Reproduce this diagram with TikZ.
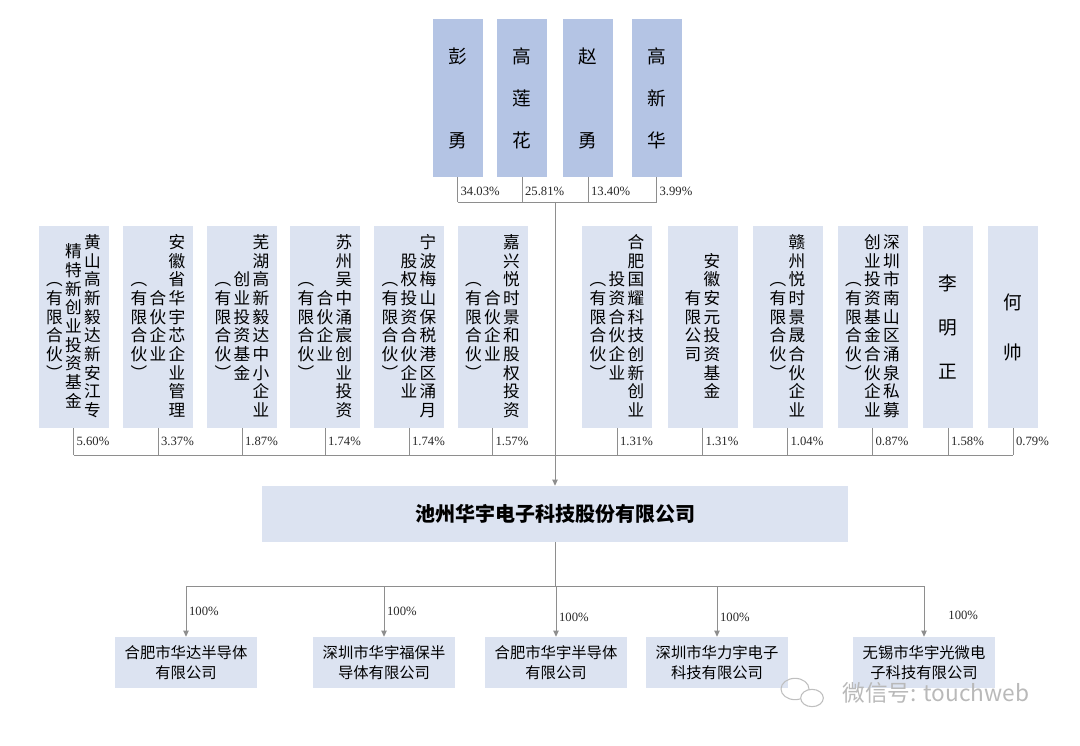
\documentclass[tikz,border=0pt]{standalone}
\usepackage{fontspec}
\newfontfamily\cjk{Noto Sans CJK SC}
\newfontfamily\numfont{Liberation Serif}
\usetikzlibrary{arrows.meta}

\definecolor{namefill}{HTML}{B4C4E4}
\definecolor{boxfill}{HTML}{DCE3F1}
\definecolor{linegray}{HTML}{8E8E8E}

% one column of upright characters, top to bottom
\ExplSyntaxOn
\cs_new_eq:NN \charmap \tl_map_inline:nn
\ExplSyntaxOff
\newcommand{\vcol}[1]{\ensuremath{\vcenter{\offinterlineskip
  \charmap{#1}{\hbox to 1.14em{\hss\vrule height .88em depth .24em width 0pt ##1\hss}}}}}

\begin{document}
\begin{tikzpicture}[
      x=0.75pt, y=-0.75pt,
      namebox/.style={fill=namefill, minimum width=37.5pt, minimum height=118.5pt,
        inner sep=0pt, align=center, font=\cjk\fontsize{14pt}{31.5pt}\selectfont},
      midbox/.style={fill=boxfill, minimum width=52.5pt, minimum height=151.5pt,
        inner sep=0pt, font=\cjk\fontsize{12.5pt}{15pt}\selectfont},
      midname/.style={midbox, minimum width=37.5pt, align=center,
        font=\cjk\fontsize{14pt}{33pt}\selectfont},
      mainbox/.style={fill=boxfill, minimum width=439.5pt, minimum height=42pt,
        inner sep=0pt, font=\cjk\bfseries\fontsize{15pt}{18pt}\selectfont},
      subbox/.style={fill=boxfill, minimum width=106.5pt, minimum height=38.25pt,
        inner sep=0pt, align=center, font=\cjk\fontsize{11.5pt}{15pt}\selectfont},
      line/.style={draw=linegray, line width=0.7pt},
      arrow/.style={line, -{Triangle[length=4.5pt, width=4pt]}},
      pct/.style={font=\numfont\fontsize{9.5pt}{11pt}\selectfont, text=black!85, inner sep=2pt}
    ]
    \useasboundingbox (0,0) rectangle (1080,745);

    % natural person shareholders
    \node[namebox] (p1) at (457.5,98) {彭\\[31.5pt]勇};
    \node[namebox] (p2) at (522,98) {高\\莲\\花};
    \node[namebox] (p3) at (588,98) {赵\\[31.5pt]勇};
    \node[namebox] (p4) at (656.5,98) {高\\新\\华};

    % other shareholders
    \node[midbox] (s1) at (73.5,327) {\vcol{︵有限合伙︶}\vcol{精特新创业投资基金}\vcol{黄山高新毅达新安江专}};
    \node[midbox] (s2) at (158,327) {\vcol{︵有限合伙︶}\vcol{合伙企业}\vcol{安徽省华宇芯企业管理}};
    \node[midbox] (s3) at (242,327) {\vcol{︵有限合伙︶}\vcol{创业投资基金}\vcol{芜湖高新毅达中小企业}};
    \node[midbox] (s4) at (325,327) {\vcol{︵有限合伙︶}\vcol{合伙企业}\vcol{苏州吴中涌宸创业投资}};
    \node[midbox] (s5) at (409,327) {\vcol{︵有限合伙︶}\vcol{股权投资合伙企业}\vcol{宁波梅山保税港区涌月}};
    \node[midbox] (s6) at (492.5,327) {\vcol{︵有限合伙︶}\vcol{合伙企业}\vcol{嘉兴悦时景和股权投资}};
    \node[midbox] (s7) at (617,327) {\vcol{︵有限合伙︶}\vcol{投资合伙企业}\vcol{合肥国耀科技创新创业}};
    \node[midbox] (s8) at (702.5,327) {\vcol{有限公司}\vcol{安徽安元投资基金}};
    \node[midbox] (s9) at (787.5,327) {\vcol{︵有限合伙︶}\vcol{赣州悦时景晟合伙企业}};
    \node[midbox] (s10) at (872.5,327) {\vcol{︵有限合伙︶}\vcol{创业投资基金合伙企业}\vcol{深圳市南山区涌泉私募}};
    \node[midname] (s11) at (948,327) {李\\明\\正};
    \node[midname] (s12) at (1013,327) {何\\[4.5pt]帅};

    \node[mainbox] (main) at (555,514) {池州华宇电子科技股份有限公司};

    % subsidiaries
    \node[subbox] (c1) at (186,662.5) {合肥市华达半导体\\有限公司};
    \node[subbox] (c2) at (384,662.5) {深圳市华宇福保半\\导体有限公司};
    \node[subbox] (c3) at (556,662.5) {合肥市华宇半导体\\有限公司};
    \node[subbox] (c4) at (717,662.5) {深圳市华力宇电子\\科技有限公司};
    \node[subbox] (c5) at (924,662.5) {无锡市华宇光微电\\子科技有限公司};

    \coordinate (tb) at (555,202);
    \coordinate (mb) at (555,455);
    \coordinate (bb) at (555,586);

    \foreach \i/\v in {1/34.03, 2/25.81, 3/13.40, 4/3.99}
      \draw[line] (p\i.south) -- node[pct, right, yshift=-1pt] {\v\%} (p\i.south |- tb);
    \draw[line] (p1.south |- tb) -- (p4.south |- tb);

    \foreach \i/\v in {1/5.60, 2/3.37, 3/1.87, 4/1.74, 5/1.74, 6/1.57,
                       7/1.31, 8/1.31, 9/1.04, 10/0.87, 11/1.58, 12/0.79}
      \draw[line] (s\i.south) -- node[pct, right] {\v\%} (s\i.south |- mb);
    \draw[line] (s1.south |- mb) -- (s12.south |- mb);

    \draw[arrow] (tb) -- (main.north);

    \draw[line] (main.south) -- (bb);
    \draw[line] (c1.north |- bb) -- (c5.north |- bb);
    \draw[arrow] (c1.north |- bb) -- node[pct, right] {100\%} (c1.north);
    \draw[arrow] (c2.north |- bb) -- node[pct, right] {100\%} (c2.north);
    \draw[arrow] (c3.north |- bb) -- node[pct, right, pos=0.62] {100\%} (c3.north);
    \draw[arrow] (c4.north |- bb) -- node[pct, right, pos=0.62] {100\%} (c4.north);
    \draw[arrow] (c5.north |- bb) -- node[pct, right, pos=0.57, xshift=16pt] {100\%} (c5.north);

    % watermark
    \draw[gray!50, line width=0.8pt] (795,689) ellipse [x radius=10.5pt, y radius=8pt];
    \draw[gray!50, line width=0.8pt, fill=white] (812,698) ellipse [x radius=8.5pt, y radius=6.5pt];
    \node[text=gray!55, font=\cjk\fontsize{17pt}{20pt}\selectfont] (wm) at (936,693) {微信号: touchweb};
  \end{tikzpicture}
\end{document}
